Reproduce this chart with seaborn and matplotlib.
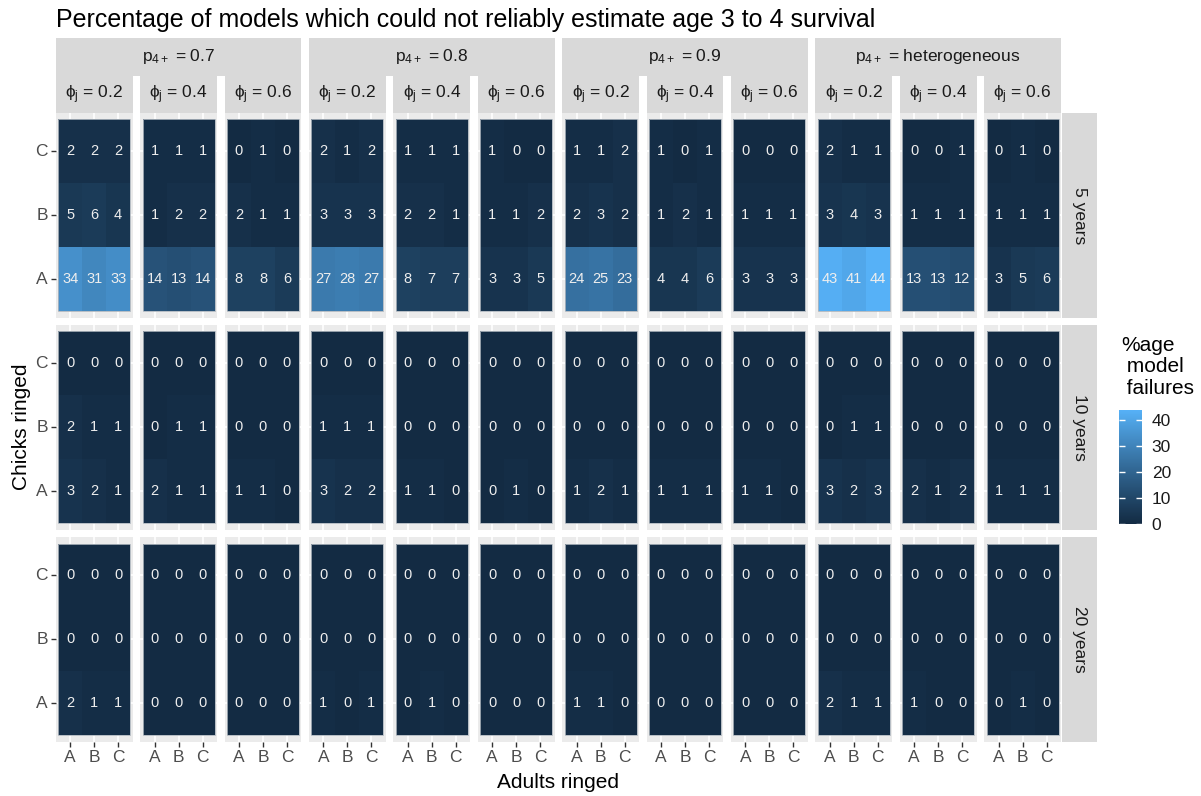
import numpy as np
import pandas as pd
import matplotlib
matplotlib.use("Agg")
import matplotlib.pyplot as plt
import seaborn as sns
from matplotlib.colors import ListedColormap
from matplotlib.patches import Rectangle

plt.rcParams["font.family"] = ["Liberation Sans", "DejaVu Sans"]
plt.rcParams["mathtext.fontset"] = "custom"
plt.rcParams["mathtext.rm"] = "Liberation Sans"
plt.rcParams["mathtext.it"] = "Liberation Sans:italic"
plt.rcParams["mathtext.bf"] = "Liberation Sans:bold"

# ---------------- data ----------------
adults = ["A", "B", "C"]
chicks = ["A", "B", "C"]
p_levels = ["0.7", "0.8", "0.9", "heterogeneous"]
phi_levels = ["0.2", "0.4", "0.6"]
durations = ["5 years", "10 years", "20 years"]

# each panel: rows = chicks A, B, C ; columns = adults A, B, C
# panel order: p=0.7 (phi .2,.4,.6), p=0.8 (...), p=0.9 (...), p=heterogeneous (...)
fail_5yr = [
    [[34, 31, 33], [5, 6, 4], [2, 2, 2]],
    [[14, 13, 14], [1, 2, 2], [1, 1, 1]],
    [[8, 8, 6], [2, 1, 1], [0, 1, 0]],
    [[27, 28, 27], [3, 3, 3], [2, 1, 2]],
    [[8, 7, 7], [2, 2, 1], [1, 1, 1]],
    [[3, 3, 5], [1, 1, 2], [1, 0, 0]],
    [[24, 25, 23], [2, 3, 2], [1, 1, 2]],
    [[4, 4, 6], [1, 2, 1], [1, 0, 1]],
    [[3, 3, 3], [1, 1, 1], [0, 0, 0]],
    [[43, 41, 44], [3, 4, 3], [2, 1, 1]],
    [[13, 13, 12], [1, 1, 1], [0, 0, 1]],
    [[3, 5, 6], [1, 1, 1], [0, 1, 0]],
]
fail_10yr = [
    [[3, 2, 1], [2, 1, 1], [0, 0, 0]],
    [[2, 1, 1], [0, 1, 1], [0, 0, 0]],
    [[1, 1, 0], [0, 0, 0], [0, 0, 0]],
    [[3, 2, 2], [1, 1, 1], [0, 0, 0]],
    [[1, 1, 0], [0, 0, 0], [0, 0, 0]],
    [[0, 1, 0], [0, 0, 0], [0, 0, 0]],
    [[1, 2, 1], [0, 0, 0], [0, 0, 0]],
    [[1, 1, 1], [0, 0, 0], [0, 0, 0]],
    [[1, 1, 0], [0, 0, 0], [0, 0, 0]],
    [[3, 2, 3], [0, 1, 1], [0, 0, 0]],
    [[2, 1, 2], [0, 0, 0], [0, 0, 0]],
    [[1, 1, 1], [0, 0, 0], [0, 0, 0]],
]
fail_20yr = [
    [[2, 1, 1], [0, 0, 0], [0, 0, 0]],
    [[0, 0, 0], [0, 0, 0], [0, 0, 0]],
    [[0, 0, 0], [0, 0, 0], [0, 0, 0]],
    [[1, 0, 1], [0, 0, 0], [0, 0, 0]],
    [[0, 1, 0], [0, 0, 0], [0, 0, 0]],
    [[0, 0, 0], [0, 0, 0], [0, 0, 0]],
    [[1, 1, 0], [0, 0, 0], [0, 0, 0]],
    [[0, 0, 0], [0, 0, 0], [0, 0, 0]],
    [[0, 0, 0], [0, 0, 0], [0, 0, 0]],
    [[2, 1, 1], [0, 0, 0], [0, 0, 0]],
    [[1, 0, 0], [0, 0, 0], [0, 0, 0]],
    [[0, 1, 0], [0, 0, 0], [0, 0, 0]],
]

records = []
for dur, arr in zip(durations, [fail_5yr, fail_10yr, fail_20yr]):
    for k, panel in enumerate(arr):
        for i, ch in enumerate(chicks):
            for j, ad in enumerate(adults):
                records.append(dict(duration=dur, p=p_levels[k // 3], phi=phi_levels[k % 3],
                                    chicks=ch, adults=ad, value=panel[i][j]))
df = pd.DataFrame(records)

# ---------------- colour map (ggplot default, Lab interpolation) ----------------
def _hex2rgb(h):
    h = h.lstrip("#")
    return np.array([int(h[i:i + 2], 16) / 255 for i in (0, 2, 4)])

_M = np.array([[0.4124564, 0.3575761, 0.1804375],
               [0.2126729, 0.7151522, 0.0721750],
               [0.0193339, 0.1191920, 0.9503041]])
_WN = np.array([0.95047, 1.0, 1.08883])

def _rgb2lab(rgb):
    lin = np.where(rgb <= 0.04045, rgb / 12.92, ((rgb + 0.055) / 1.055) ** 2.4)
    xyz = _M @ lin / _WN
    f = np.where(xyz > (6 / 29) ** 3, np.cbrt(xyz), xyz / (3 * (6 / 29) ** 2) + 4 / 29)
    return np.array([116 * f[1] - 16, 500 * (f[0] - f[1]), 200 * (f[1] - f[2])])

def _lab2rgb(lab):
    fy_ = (lab[0] + 16) / 116
    f = np.array([fy_ + lab[1] / 500, fy_, fy_ - lab[2] / 200])
    xyz = np.where(f > 6 / 29, f ** 3, 3 * (6 / 29) ** 2 * (f - 4 / 29)) * _WN
    lin = np.linalg.solve(_M, xyz)
    lin = np.clip(lin, 0, 1)
    rgb = np.where(lin <= 0.0031308, 12.92 * lin, 1.055 * lin ** (1 / 2.4) - 0.055)
    return np.clip(rgb, 0, 1)

_lo, _hi = _rgb2lab(_hex2rgb("#132B43")), _rgb2lab(_hex2rgb("#56B1F7"))
cmap = ListedColormap([_lab2rgb(_lo + t * (_hi - _lo)) for t in np.linspace(0, 1, 256)])
VMAX = 44

# ---------------- layout ----------------
W, H = 1201, 796
fig = plt.figure(figsize=(W / 100, H / 100), dpi=100)
fig.patch.set_facecolor("white")

def add_ax(x0, y0, x1, y1):
    return fig.add_axes([x0 / W, 1 - y1 / H, (x1 - x0) / W, (y1 - y0) / H])

PX0, PY0 = 55.7, 113.0
GAP = 7.5
PW = (1061.0 - PX0 - 11 * GAP) / 12
PH = (741.7 - PY0 - 2 * GAP) / 3

STRIP_BG = "#D9D9D9"
STRIP_TXT = "#1A1A1A"

def strip(x0, y0, x1, y1, text, rot=0, size=12.5):
    a = add_ax(x0, y0, x1, y1)
    a.set_facecolor(STRIP_BG)
    a.set_xticks([]); a.set_yticks([])
    for s in a.spines.values():
        s.set_visible(False)
    a.text(0.5, 0.5, text, ha="center", va="center", rotation=rot,
           fontsize=size, color=STRIP_TXT, transform=a.transAxes)
    return a

cax = add_ax(1119, 410, 1142, 524)
first = True
for r, dur in enumerate(durations):
    for c in range(12):
        p, phi = p_levels[c // 3], phi_levels[c % 3]
        x0 = PX0 + c * (PW + GAP)
        y0 = PY0 + r * (PH + GAP)
        ax = add_ax(x0, y0, x0 + PW, y0 + PH)
        sub = df[(df.duration == dur) & (df.p == p) & (df.phi == phi)]
        mat = sub.pivot(index="chicks", columns="adults", values="value")
        mat = mat.reindex(index=chicks[::-1], columns=adults)
        sns.heatmap(mat, ax=ax, cmap=cmap, vmin=0, vmax=VMAX, annot=True, fmt="d",
                    annot_kws=dict(color="#EEEEEE", fontsize=10.5),
                    cbar=first, cbar_ax=cax if first else None,
                    cbar_kws=dict(ticks=[0, 10, 20, 30, 40]) if first else None)
        first = False
        ax.set_facecolor("#EBEBEB")
        ax.set_xlim(-0.1, 3.1)
        ax.set_ylim(3.1, -0.1)
        ax.set_xlabel("")
        ax.set_ylabel("")
        ax.set_axisbelow(True)
        ax.grid(True, color="white", linewidth=1.2)
        ax.add_patch(Rectangle((0, 0), 3, 3, fill=False, ec="#AEB6BE", lw=0.6, zorder=3))
        ax.tick_params(axis="both", length=3.8, width=1.0, color="#333333",
                       labelcolor="#4D4D4D", labelsize=12.5, pad=2)
        ax.set_yticklabels(ax.get_yticklabels(), rotation=0)
        ax.set_xticklabels(ax.get_xticklabels(), rotation=0)
        if c != 0:
            ax.tick_params(axis="y", left=False, labelleft=False)
        if r != 2:
            ax.tick_params(axis="x", bottom=False, labelbottom=False)
        # phi strips on top row
        if r == 0:
            strip(x0, 76, x0 + PW, PY0, "ϕ$_{\\mathregular{j}}$ = " + phi)
        # duration strip on right
        if c == 11:
            strip(x0 + PW + 0.7, y0, x0 + PW + 36, y0 + PH, dur, rot=-90)

for g, p in enumerate(p_levels):
    x0 = PX0 + 3 * g * (PW + GAP)
    x1 = x0 + 3 * PW + 2 * GAP
    strip(x0, 38, x1, 76, "p$_{\\mathregular{4+}}$ = " + p)

# colourbar styling
cbar = None
for a in fig.axes:
    for coll in a.collections:
        if getattr(coll, "colorbar", None) is not None:
            cbar = coll.colorbar
cbar.outline.set_visible(False)
cax.tick_params(which="both", direction="in", length=4.5, width=1.0, color="white",
                left=True, right=True, labelleft=False, labelright=True,
                labelsize=12.5, labelcolor="#1A1A1A", pad=7)

fig.text(1121 / W, 1 - 336 / H, "%age\n model\n failures", ha="left", va="top",
         fontsize=15, linespacing=1.15, color="black")

# titles
fig.text(56 / W, 1 - 20 / H,
         "Percentage of models which could not reliably estimate age 3 to 4 survival",
         ha="left", va="center", fontsize=18, color="black")
fig.text((PX0 + 1061) / 2 / W, 1 - 782 / H, "Adults ringed", ha="center", va="center",
         fontsize=15, color="black")
fig.text(22 / W, 1 - 427 / H, "Chicks ringed", ha="center", va="center",
         rotation=90, fontsize=15, color="black")

fig.savefig("out.png", dpi=100, facecolor="white")
